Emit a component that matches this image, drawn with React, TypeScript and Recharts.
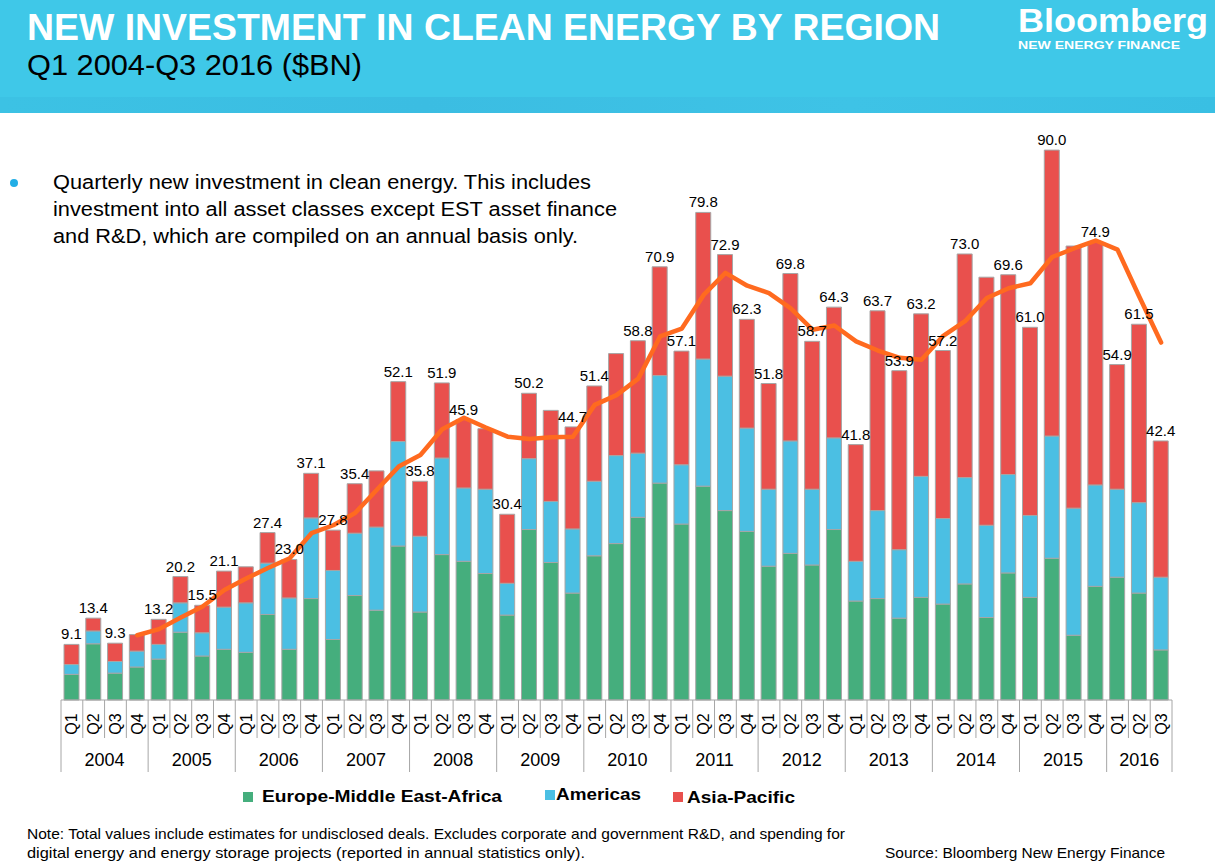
import React from 'react';
import { ComposedChart, Bar, Line, XAxis, YAxis, LabelList } from 'recharts';

const YEARS = ['2004', '2005', '2006', '2007', '2008', '2009', '2010', '2011', '2012', '2013', '2014', '2015', '2016'];
const QUARTER_NAMES = ['Q1', 'Q2', 'Q3', 'Q4'];
const QUARTER_COUNT = 51; // Q1 2004 .. Q3 2016

// $bn per quarter
const EMEA = [
    4.2, 9.2, 4.4, 5.4, 6.7, 11.1, 7.2, 8.3, 7.8, 14.0, 8.3, 16.6, 9.9, 17.1, 14.7, 25.2,
    14.4, 23.8, 22.7, 20.7, 13.9, 27.9, 22.5, 17.5, 23.6, 25.6, 29.9, 35.5, 28.8, 35.0, 31.0, 27.6,
    21.9, 24.0, 22.1, 27.9, 16.2, 16.6, 13.4, 16.8, 15.7, 19.0, 13.5, 20.8, 16.8, 23.2, 10.6, 18.6,
    20.1, 17.5, 8.2,
];
const AMERICAS = [
    1.6, 2.1, 1.9, 2.6, 2.4, 4.8, 3.8, 6.9, 8.1, 8.4, 8.4, 13.2, 11.3, 10.2, 13.6, 17.1,
    12.4, 15.8, 12.0, 13.8, 5.2, 11.6, 10.0, 10.5, 12.2, 14.4, 10.5, 17.6, 9.7, 20.8, 22.0, 16.9,
    12.6, 18.4, 12.4, 15.0, 6.5, 14.4, 11.2, 19.8, 14.0, 17.4, 15.1, 16.1, 13.4, 20.0, 20.8, 16.6,
    14.4, 14.8, 11.9,
];
const APAC = [
    3.3, 2.1, 3.0, 2.7, 4.1, 4.3, 4.5, 5.9, 5.9, 5.0, 6.3, 7.3, 6.6, 8.1, 9.2, 9.8,
    9.0, 12.3, 11.2, 9.9, 11.3, 10.7, 14.9, 16.7, 15.6, 16.7, 18.4, 17.8, 18.6, 24.0, 19.9, 17.8,
    17.3, 27.4, 24.2, 21.4, 19.1, 32.7, 29.3, 26.6, 27.5, 36.6, 40.6, 32.7, 30.8, 46.8, 42.9, 39.7,
    20.4, 29.2, 22.3,
];
// totals printed above the bars (some quarters carry no label in the original)
const TOTAL_LABELS = [
    '9.1', '13.4', '9.3', '', '13.2', '20.2', '15.5', '21.1', '', '27.4', '23.0', '37.1', '27.8', '35.4', '', '52.1',
    '35.8', '51.9', '45.9', '', '30.4', '50.2', '', '44.7', '51.4', '', '58.8', '70.9', '57.1', '79.8', '72.9', '62.3',
    '51.8', '69.8', '58.7', '64.3', '41.8', '63.7', '53.9', '63.2', '57.2', '73.0', '', '69.6', '61.0', '90.0', '', '74.9',
    '54.9', '61.5', '42.4',
];
// orange trend line
const TREND = [
    null, null, null, 10.6, 11.6, 13.5, 15.3, 18.0, 19.9, 21.6, 23.2, 27.3, 28.6, 30.6, 34.4, 38.2,
    40.1, 44.3, 46.2, 44.6, 43.1, 42.7, 43.0, 43.1, 48.3, 49.9, 52.6, 59.5, 60.8, 66.3, 69.9, 67.8,
    66.6, 64.1, 60.6, 61.3, 58.7, 57.2, 56.0, 55.7, 59.6, 62.0, 65.8, 67.4, 68.2, 72.5, 73.9, 75.2,
    73.7, 66.0, 58.5,
];

const GREEN = '#45AE7D';
const BLUE = '#4BBFE3';
const RED = '#E9504D';
const ORANGE = '#FF6A1F';
const FONT = '"Liberation Sans", Arial, Helvetica, sans-serif';

const W = 1215;
const H = 868;
const PLOT_LEFT = 61;
const PLOT_RIGHT = 1172;
const AXIS_Y = 700;
const BAND = (PLOT_RIGHT - PLOT_LEFT) / QUARTER_COUNT;

const data = Array.from({ length: QUARTER_COUNT }, (_, i) => ({
    id: `${YEARS[Math.floor(i / 4)]} ${QUARTER_NAMES[i % 4]}`,
    emea: EMEA[i],
    americas: AMERICAS[i],
    apac: APAC[i],
    label: TOTAL_LABELS[i],
    trend: TREND[i],
}));

const quartersInYear = (year: string) => data.filter(d => d.id.startsWith(year)).length;

const AxisTick = (props: any) => {
    const { x, payload } = props;
    const [year, q] = String(payload.value).split(' ');
    const left = x - BAND / 2;
    const isFirst = q === 'Q1';
    const isLast = payload.value === data[data.length - 1].id;
    const n = quartersInYear(year);
    return (
        <g>
            <line x1={left} x2={left} y1={AXIS_Y} y2={isFirst ? 772 : 738} stroke="#A6A6A6" strokeWidth={1} />
            {isLast && <line x1={x + BAND / 2} x2={x + BAND / 2} y1={AXIS_Y} y2={772} stroke="#A6A6A6" strokeWidth={1} />}
            <text
                x={x}
                y={724}
                transform={`rotate(-90, ${x}, 724)`}
                textAnchor="middle"
                dominantBaseline="central"
                fontSize={16}
                fontFamily={FONT}
                fill="#000"
            >
                {q}
            </text>
            {isFirst && (
                <text x={left + (n * BAND) / 2} y={766} textAnchor="middle" fontSize={18} fontFamily={FONT} fill="#000">
                    {year}
                </text>
            )}
        </g>
    );
};

const Header = () => (
    <svg width={W} height={H} style={{ position: 'absolute', left: 0, top: 0, pointerEvents: 'none' }}>
        <defs>
            <linearGradient id="strip" x1="0" y1="0" x2="1" y2="0">
                <stop offset="0" stopColor="#3CC2E4" />
                <stop offset="0.35" stopColor="#3BBDE2" />
                <stop offset="0.7" stopColor="#3EC3E6" />
                <stop offset="1" stopColor="#39BFE3" />
            </linearGradient>
        </defs>
        <rect x={0} y={0} width={W} height={97} fill="#3FC8E8" />
        <rect x={0} y={97} width={W} height={16} fill="url(#strip)" />

        <text x={27} y={40} fontSize={37} fontWeight="bold" fill="#fff" fontFamily={FONT} textLength={913} lengthAdjust="spacingAndGlyphs">
            NEW INVESTMENT IN CLEAN ENERGY BY REGION
        </text>
        <text x={27} y={75} fontSize={30} fill="#000" fontFamily={FONT} textLength={335} lengthAdjust="spacingAndGlyphs">
            Q1 2004-Q3 2016 ($BN)
        </text>
        <text x={1018} y={32} fontSize={33} fontWeight="bold" fill="#fff" fontFamily={FONT} textLength={190} lengthAdjust="spacingAndGlyphs">
            Bloomberg
        </text>
        <text x={1018} y={49} fontSize={11} fontWeight="bold" fill="#fff" fontFamily={FONT} textLength={162} lengthAdjust="spacingAndGlyphs">
            NEW ENERGY FINANCE
        </text>

        <circle cx={14} cy={183} r={4} fill="#22AEE6" />
        <g fontSize={20} fill="#000" fontFamily={FONT}>
            <text x={53} y={189} textLength={538} lengthAdjust="spacingAndGlyphs">Quarterly new investment in clean energy. This includes</text>
            <text x={53} y={216} textLength={564} lengthAdjust="spacingAndGlyphs">investment into all asset classes except EST asset finance</text>
            <text x={53} y={243} textLength={525} lengthAdjust="spacingAndGlyphs">and R&amp;D, which are compiled on an annual basis only.</text>
        </g>

        <g fontSize={17} fontWeight="bold" fill="#000" fontFamily={FONT}>
            <rect x={243} y={792} width={10} height={10} fill={GREEN} />
            <text x={262} y={802} textLength={240} lengthAdjust="spacingAndGlyphs">Europe-Middle East-Africa</text>
            <rect x={545} y={790} width={10} height={10} fill={BLUE} />
            <text x={556} y={800} textLength={85} lengthAdjust="spacingAndGlyphs">Americas</text>
            <rect x={673} y={792} width={10} height={10} fill={RED} />
            <text x={687} y={803} textLength={108} lengthAdjust="spacingAndGlyphs">Asia-Pacific</text>
        </g>

        <g fontSize={15} fill="#000" fontFamily={FONT}>
            <text x={27} y={839} textLength={818} lengthAdjust="spacingAndGlyphs">
                Note: Total values include estimates for undisclosed deals. Excludes corporate and government R&amp;D, and spending for
            </text>
            <text x={27} y={858} textLength={558} lengthAdjust="spacingAndGlyphs">
                digital energy and energy storage projects (reported in annual statistics only).
            </text>
            <text x={885} y={858} textLength={280} lengthAdjust="spacingAndGlyphs">Source: Bloomberg New Energy Finance</text>
        </g>
    </svg>
);

export default function App() {
    return (
        <div style={{ position: 'absolute', left: 0, top: 0, width: W, height: H, background: '#fff', overflow: 'hidden' }}>
            <ComposedChart
                width={W}
                height={H}
                data={data}
                margin={{ top: 89, right: W - PLOT_RIGHT, bottom: H - AXIS_Y - 70, left: PLOT_LEFT }}
            >
                <XAxis
                    dataKey="id"
                    height={70}
                    interval={0}
                    tickLine={false}
                    axisLine={{ stroke: '#A6A6A6' }}
                    tick={<AxisTick />}
                />
                <YAxis hide domain={[0, 100]} />
                <Bar dataKey="emea" stackId="a" fill={GREEN} stroke="#A6A6A6" strokeWidth={1} barSize={15} isAnimationActive={false} />
                <Bar dataKey="americas" stackId="a" fill={BLUE} stroke="#A6A6A6" strokeWidth={1} barSize={15} isAnimationActive={false} />
                <Bar dataKey="apac" stackId="a" fill={RED} stroke="#A6A6A6" strokeWidth={1} barSize={15} isAnimationActive={false}>
                    <LabelList dataKey="label" position="top" offset={5} fontSize={15} fontFamily={FONT} fill="#000" />
                </Bar>
                <Line
                    dataKey="trend"
                    type="linear"
                    stroke={ORANGE}
                    strokeWidth={4.5}
                    strokeLinejoin="round"
                    strokeLinecap="round"
                    dot={false}
                    isAnimationActive={false}
                />
            </ComposedChart>
            <Header />
        </div>
    );
}
